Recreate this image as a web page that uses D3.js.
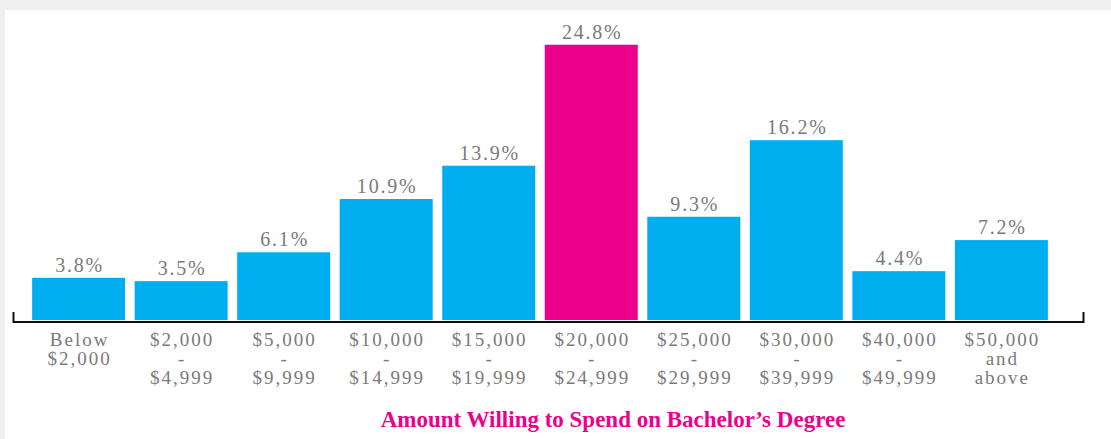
<!DOCTYPE html>
<html>
<head>
<meta charset="UTF-8">
<title>Amount Willing to Spend on Bachelor's Degree</title>
<script src="https://d3js.org/d3.v7.min.js"></script>
<style>
    body {margin: 0; background: #f0f0f0;}
    svg {display: block;}
    .val {fill: #7a7a7a; font-family: "Liberation Serif", "Times New Roman", serif; font-size: 20px; letter-spacing: 1.8px;}
    .cat {fill: #7a7a7a; font-family: "Liberation Serif", "Times New Roman", serif; font-size: 19px; letter-spacing: 2px;}
    .title {fill: #ec008c; font-family: "Liberation Serif", "Times New Roman", serif; font-size: 23px; font-weight: bold;}
</style>
</head>
<body>
<div id="chart"></div>
<script>
    // data
    var categories = ["Below $2,000", "$2,000 - $4,999", "$5,000 - $9,999", "$10,000 - $14,999",
        "$15,000 - $19,999", "$20,000 - $24,999", "$25,000 - $29,999", "$30,000 - $39,999",
        "$40,000 - $49,999", "$50,000 and above"];
    var catLines = [["Below", "$2,000"], ["$2,000", "-", "$4,999"], ["$5,000", "-", "$9,999"],
        ["$10,000", "-", "$14,999"], ["$15,000", "-", "$19,999"], ["$20,000", "-", "$24,999"],
        ["$25,000", "-", "$29,999"], ["$30,000", "-", "$39,999"], ["$40,000", "-", "$49,999"],
        ["$50,000", "and", "above"]];
    var values = [3.8, 3.5, 6.1, 10.9, 13.9, 24.8, 9.3, 16.2, 4.4, 7.2];
    var highlight = "$20,000 - $24,999";
    var title = "Amount Willing to Spend on Bachelor\u2019s Degree";

    var W = 1111, H = 439;
    var baseY = 320;

    var svg = d3.select("#chart").append("svg")
        .attr("width", W)
        .attr("height", H);

    // white panel
    svg.append("rect")
        .attr("x", 5).attr("y", 10)
        .attr("width", W - 5).attr("height", H - 10)
        .attr("fill", "#fff");

    var x = d3.scaleBand()
        .domain(categories)
        .range([27, 1053])
        .paddingInner(0.093)
        .paddingOuter(0.05);

    var y = d3.scaleLinear()
        .domain([0, 25])
        .range([baseY, baseY - 277.5]);

    svg.selectAll("rect.bar")
        .data(values)
        .enter().append("rect")
        .attr("class", "bar")
        .attr("x", function(d, i) {return x(categories[i])})
        .attr("y", function(d) {return y(d)})
        .attr("width", x.bandwidth())
        .attr("height", function(d) {return baseY - y(d)})
        .attr("fill", function(d, i) {return categories[i] == highlight ? "#ec008c" : "#00aeef"});

    svg.selectAll("text.val")
        .data(values)
        .enter().append("text")
        .attr("class", "val")
        .attr("text-anchor", "middle")
        .attr("x", function(d, i) {return x(categories[i]) + x.bandwidth() / 2 + 1})
        .attr("y", function(d) {return y(d) - 6})
        .text(function(d) {return d.toFixed(1) + "%"});

    // axis line with end ticks
    svg.append("path")
        .attr("d", "M13.5,312V322H1083.5V312")
        .attr("fill", "none")
        .attr("stroke", "#111")
        .attr("stroke-width", 2);

    var cat = svg.selectAll("text.cat")
        .data(catLines)
        .enter().append("text")
        .attr("class", "cat")
        .attr("text-anchor", "middle")
        .attr("x", function(d, i) {return x(categories[i]) + x.bandwidth() / 2 + 1})
        .attr("y", 346);

    cat.selectAll("tspan")
        .data(function(d) {return d})
        .enter().append("tspan")
        .attr("x", function() {return d3.select(this.parentNode).attr("x")})
        .attr("dy", function(d, i) {return i == 0 ? 0 : 19})
        .text(function(d) {return d});

    svg.append("text")
        .attr("class", "title")
        .attr("text-anchor", "middle")
        .attr("x", 613)
        .attr("y", 427)
        .text(title);
</script>
</body>
</html>
